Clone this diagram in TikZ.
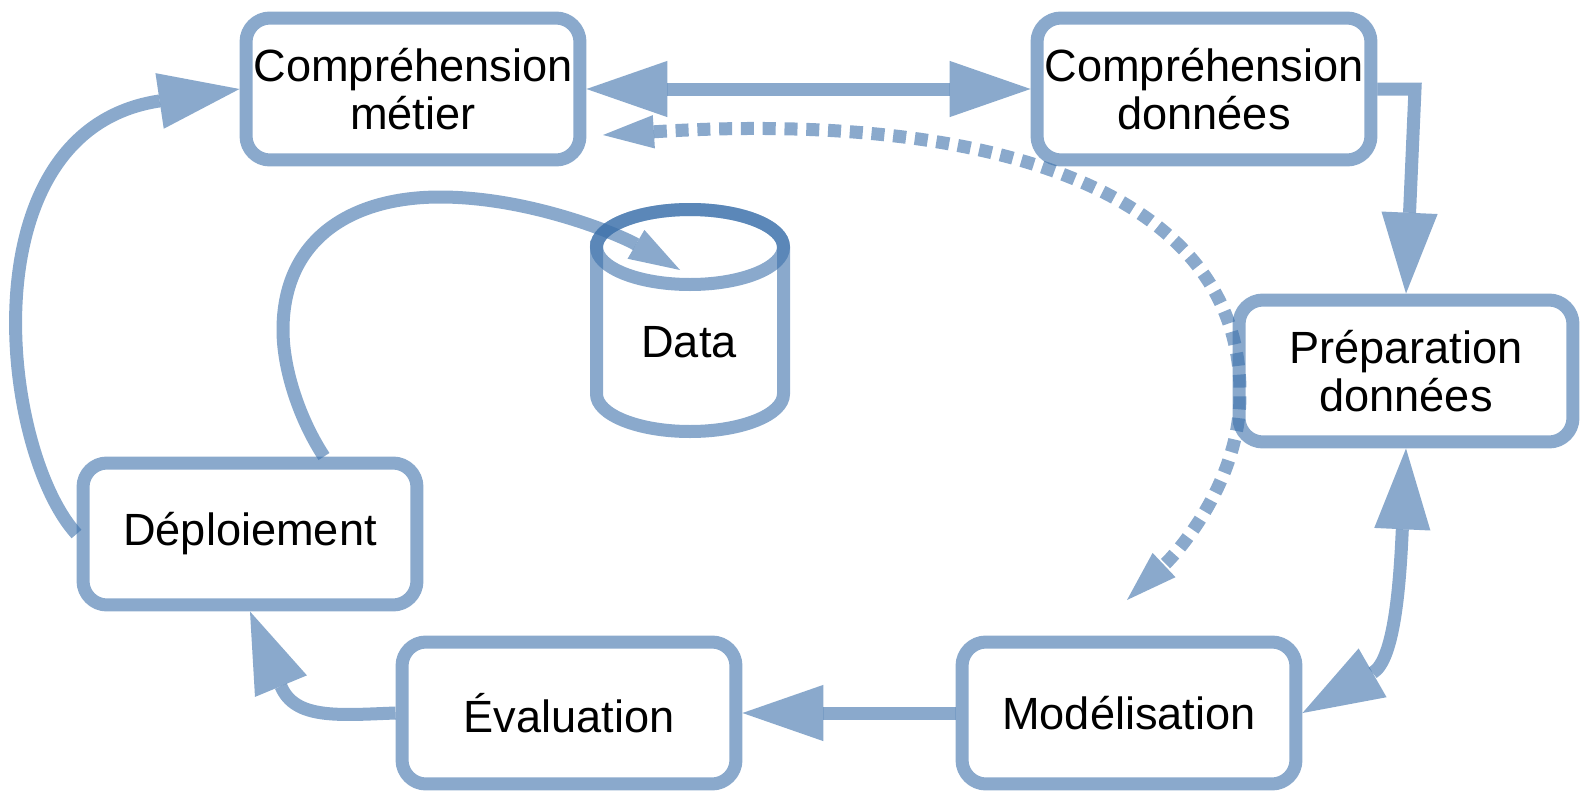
\documentclass[tikz,border=0pt]{standalone}
\usepackage{fontspec}
\setmainfont{Liberation Sans}
\usetikzlibrary{arrows.meta}

\definecolor{crispblue}{RGB}{60,112,170}

\tikzset{
  etape/.style={draw=crispblue, draw opacity=0.6, line width=7.4pt,
    rounded corners=0.48cm, minimum width=6.68cm, minimum height=2.84cm,
    align=center, font=\fontsize{25.7pt}{27.7pt}\selectfont},
  fleche/.style={color=crispblue, opacity=0.6, line width=7.4pt},
  pointille/.style={dash pattern=on 7.4pt off 5pt},
  petite/.style={>={Triangle[length=29pt,width=19pt,line width=0pt]}},
}

\begin{document}
\begin{tikzpicture}[x=0.02cm, y=0.02cm,
    >={Triangle[length=46pt,width=32pt,line width=0pt]}]

  \useasboundingbox (0,0) rectangle (1587,-798);

  %%%%%%%%%%%%%%%%%%%%%%%%%%%%%%%%%%%%%%%%%%%%%%%%%
  % Steps
  \node[etape] (cm) at (413,-89) {Compréhension\\métier};
  \node[etape] (cd) at (1204,-89) {Compréhension\\données};
  \node[etape] (pd) at (1406,-371) {Préparation\\données};
  \node[etape] (mo) at (1129,-713) {Modélisation};
  \node[etape] (ev) at (569,-713) {Évaluation};
  \node[etape] (de) at (250,-534) {Déploiement};

  % Data store
  \draw[fleche] (596.5,-247) -- (596.5,-394)
      arc[start angle=180, end angle=360, x radius=93.5, y radius=37.5]
      -- (783.5,-247)
      arc[start angle=0, end angle=180, x radius=93.5, y radius=37.5] -- cycle;
  \draw[fleche] (690,-247) ellipse [x radius=93.5, y radius=37.5];
  \node[font=\fontsize{25.7pt}{27.7pt}\selectfont] (data) at (689,-342) {Data};

  %%%%%%%%%%%%%%%%%%%%%%%%%%%%%%%%%%%%%%%%%%%%%%%%%
  % Cycle
  \coordinate (cdcoin) at (1415,-89);
  \draw[fleche, <->] (cm) -- (cd);
  \draw[fleche, ->] (cd.east) -- (cdcoin) -- (pd.north);
  \draw[fleche, <->] (pd.south) .. controls (1400,-580) and (1395,-660) .. (mo.east);
  \draw[fleche, ->] (mo) -- (ev);
  \draw[fleche, ->] (ev.west) .. controls (340,-715) and (295,-720) .. (de.south);
  \draw[fleche, ->] (de.west) .. controls (0,-450) and (-35,-130) .. (cm.west);

  % Deployment back to the data
  \coordinate (dbtip) at (680,-270);
  \draw[fleche, petite, ->] ([xshift=1.48cm]de.north)
      .. controls (300,-420) and (283,-370) .. (283,-330)
      .. controls (283,-240) and (350,-197) .. (440,-197)
      .. controls (530,-197) and (620,-235) .. (dbtip);

  % Dotted loop
  \coordinate (retourg) at (603,-135);
  \coordinate (retourb) at (1127,-600);
  \draw[fleche, pointille, petite, <->] (retourg)
      .. controls (1000,-110) and (1242,-195) .. (1240,-395)
      .. controls (1240,-480) and (1180,-550) .. (retourb);

\end{tikzpicture}
\end{document}
